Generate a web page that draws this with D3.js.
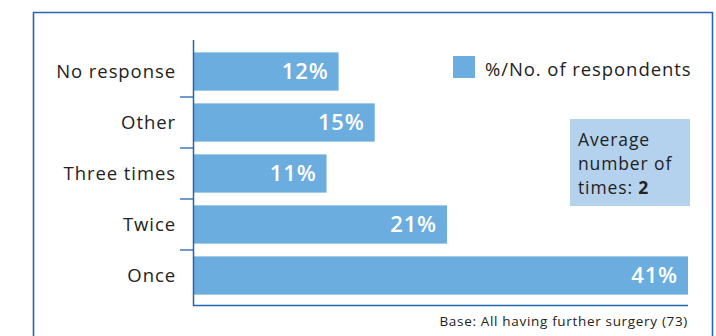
<!DOCTYPE html>
<html>
<head>
<meta charset="utf-8">
<script src="https://cdn.jsdelivr.net/npm/d3@7"></script>
<style>
  html, body { margin: 0; padding: 0; background: #fff; }
  svg { display: block; }
  text { font-family: "Open Sans", Lato, sans-serif; letter-spacing: 0.05em; }
</style>
</head>
<body>
<svg id="chart" width="716" height="336"></svg>
<script>
// Number of further operations among respondents (percent of base)
const categories = ["No response", "Other", "Three times", "Twice", "Once"];
const percentages = [12, 15, 11, 21, 41];
const legendLabel = "%/No. of respondents";
const noteLines = ["Average", "number of", "times: "];
const noteValue = "2";
const baseNote = "Base: All having further surgery (73)";

const barColor = "#6caddf";
const axisColor = "#2166b0";
const frameColor = "#2a64ae";

const svg = d3.select("#chart");

// outer frame: top, left and right edges
svg.append("path")
  .attr("d", "M33.5,336 V12.5 H712.5 V336")
  .attr("fill", "none")
  .attr("stroke", frameColor)
  .attr("stroke-width", 1.6);

const plot = { left: 194, top: 46, bottom: 301 };

const y = d3.scaleBand()
  .domain(categories)
  .range([plot.top, plot.bottom])
  .paddingInner(0.25)
  .paddingOuter(0.125);

const x = d3.scaleLinear()
  .domain([0, 41])
  .range([plot.left, plot.left + 494]);

// bars
svg.append("g").selectAll("rect")
  .data(categories)
  .join("rect")
  .attr("x", plot.left)
  .attr("y", d => y(d))
  .attr("width", (d, i) => x(percentages[i]) - plot.left)
  .attr("height", y.bandwidth())
  .attr("fill", barColor);

// value labels inside the bar ends
svg.append("g").selectAll("text")
  .data(categories)
  .join("text")
  .attr("x", (d, i) => x(percentages[i]) - 10)
  .attr("y", d => y(d) + y.bandwidth() / 2)
  .attr("dy", "0.36em")
  .attr("text-anchor", "end")
  .attr("fill", "#fff")
  .attr("font-size", 22)
  .attr("font-weight", 600)
  .style("letter-spacing", "0.04em")
  .text((d, i) => percentages[i] + "%");

// category axis
const axisG = svg.append("g");
axisG.append("line")
  .attr("x1", plot.left - 0.5).attr("x2", plot.left - 0.5)
  .attr("y1", 40).attr("y2", 306)
  .attr("stroke", axisColor).attr("stroke-width", 1.5);
axisG.append("line")
  .attr("x1", plot.left - 1).attr("x2", 688)
  .attr("y1", 305.5).attr("y2", 305.5)
  .attr("stroke", axisColor).attr("stroke-width", 1.5);

// separator ticks between categories
const step = y.step();
axisG.selectAll("line.tick")
  .data(categories.slice(1))
  .join("line")
  .attr("class", "tick")
  .attr("x1", plot.left - 14).attr("x2", plot.left)
  .attr("y1", d => y(d) - (step - y.bandwidth()) / 2)
  .attr("y2", d => y(d) - (step - y.bandwidth()) / 2)
  .attr("stroke", axisColor).attr("stroke-width", 1.3);

axisG.selectAll("text")
  .data(categories)
  .join("text")
  .attr("x", 176)
  .attr("y", d => y(d) + y.bandwidth() / 2)
  .attr("dy", "0.36em")
  .attr("text-anchor", "end")
  .attr("fill", "#222")
  .attr("font-size", 18.5)
  .text(d => d);

// legend
const legend = svg.append("g");
legend.append("rect")
  .attr("x", 453).attr("y", 56).attr("width", 22).attr("height", 22)
  .attr("fill", barColor);
legend.append("text")
  .attr("x", 485).attr("y", 76)
  .attr("fill", "#222")
  .attr("font-size", 18.5)
  .text(legendLabel);

// average note box
const note = svg.append("g");
note.append("rect")
  .attr("x", 570).attr("y", 119).attr("width", 120).attr("height", 87)
  .attr("fill", "#b4d2ee");
const noteText = note.append("text")
  .attr("fill", "#222")
  .attr("font-size", 17.5);
noteLines.forEach((line, i) => {
  noteText.append("tspan")
    .attr("x", 578)
    .attr("y", 146 + i * 24)
    .text(line);
  if (i === noteLines.length - 1) {
    noteText.append("tspan").attr("font-weight", 700).text(noteValue);
  }
});

// base footnote
svg.append("text")
  .attr("x", 688).attr("y", 326)
  .attr("text-anchor", "end")
  .attr("fill", "#222")
  .attr("font-size", 13.5)
  .text(baseNote);
</script>
</body>
</html>
